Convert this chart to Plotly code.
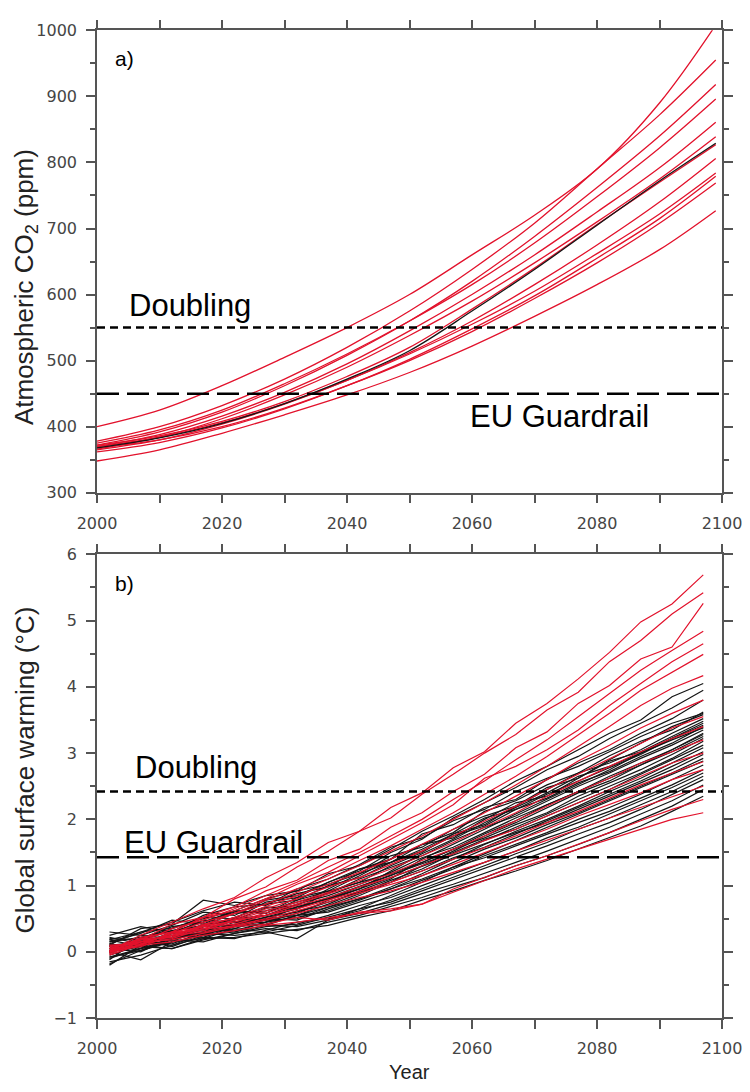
import plotly.graph_objects as go

# ---------------- data ----------------
# panel a) atmospheric CO2 (ppm) for the emission-driven runs
co2_years = [2000, 2010, 2020, 2030, 2040, 2050, 2060, 2070, 2080, 2090, 2099]
co2_runs_red = [
    [400, 425, 462, 505, 550, 600, 660, 720, 790, 890, 1008],
    [378, 400, 432, 472, 520, 575, 638, 708, 790, 872, 955],
    [372, 392, 422, 462, 508, 560, 620, 688, 762, 840, 918],
    [375, 395, 425, 465, 510, 560, 615, 678, 748, 822, 896],
    [370, 388, 416, 452, 495, 545, 600, 660, 725, 792, 861],
    [366, 384, 412, 448, 490, 538, 590, 648, 710, 775, 839],
    [372, 386, 408, 438, 476, 520, 578, 640, 706, 770, 827],
    [365, 380, 404, 434, 470, 512, 560, 615, 675, 740, 806],
    [370, 384, 406, 435, 470, 510, 555, 605, 662, 722, 784],
    [362, 376, 398, 427, 462, 502, 548, 598, 655, 715, 779],
    [368, 380, 400, 428, 462, 500, 544, 594, 648, 708, 769],
    [348, 365, 390, 418, 448, 482, 522, 567, 615, 668, 727],
]
co2_run_black = [368, 383, 405, 435, 472, 515, 575, 638, 705, 772, 829]

# panel b) global surface warming (deg C)
warming_years = [2002, 2007, 2012, 2017, 2022, 2027, 2032, 2037, 2042, 2047,
                 2052, 2057, 2062, 2067, 2072, 2077, 2082, 2087, 2092, 2097]
warming_runs_red = [
    [0.02, 0.25, 0.45, 0.65, 0.82, 1.12, 1.35, 1.65, 1.82, 2.18, 2.40, 2.78, 3.02, 3.45, 3.75, 4.12, 4.52, 4.98, 5.25, 5.69],
    [0.05, 0.18, 0.42, 0.52, 0.80, 0.98, 1.28, 1.52, 1.82, 2.02, 2.38, 2.68, 3.00, 3.28, 3.65, 3.92, 4.38, 4.70, 5.10, 5.42],
    [0.00, 0.20, 0.30, 0.52, 0.68, 0.92, 1.08, 1.38, 1.55, 1.88, 2.10, 2.42, 2.68, 3.08, 3.32, 3.75, 4.02, 4.42, 4.60, 5.26],
    [0.08, 0.15, 0.35, 0.48, 0.65, 0.85, 1.05, 1.28, 1.50, 1.75, 2.00, 2.30, 2.58, 2.90, 3.20, 3.55, 3.90, 4.25, 4.55, 4.84],
    [-0.02, 0.22, 0.30, 0.52, 0.62, 0.80, 1.02, 1.20, 1.45, 1.70, 1.95, 2.22, 2.62, 2.80, 3.05, 3.35, 3.72, 4.05, 4.38, 4.65],
    [0.10, 0.12, 0.28, 0.45, 0.58, 0.78, 0.95, 1.15, 1.38, 1.60, 1.85, 2.10, 2.38, 2.65, 2.95, 3.28, 3.60, 3.95, 4.22, 4.49],
    [0.00, 0.15, 0.25, 0.40, 0.58, 0.72, 0.90, 1.10, 1.30, 1.52, 1.75, 2.00, 2.25, 2.52, 2.80, 3.10, 3.40, 3.72, 3.98, 4.17],
    [0.05, 0.10, 0.30, 0.38, 0.52, 0.68, 0.85, 1.02, 1.20, 1.40, 1.62, 1.85, 2.10, 2.35, 2.60, 2.88, 3.12, 3.38, 3.60, 3.80],
    [0.02, 0.18, 0.22, 0.42, 0.50, 0.65, 0.80, 0.98, 1.12, 1.32, 1.52, 1.75, 1.98, 2.20, 2.45, 2.68, 2.92, 3.15, 3.38, 3.55],
    [-0.05, 0.12, 0.28, 0.35, 0.48, 0.62, 0.75, 0.90, 1.08, 1.25, 1.45, 1.65, 1.88, 2.10, 2.35, 2.58, 2.80, 3.02, 3.22, 3.40],
    [0.08, 0.15, 0.25, 0.40, 0.45, 0.58, 0.72, 0.88, 1.02, 1.18, 1.38, 1.55, 1.75, 1.98, 2.20, 2.42, 2.62, 2.85, 3.02, 3.20],
    [0.00, 0.10, 0.30, 0.32, 0.48, 0.55, 0.70, 0.82, 0.98, 1.12, 1.30, 1.48, 1.68, 1.85, 2.05, 2.25, 2.45, 2.65, 2.85, 3.00],
    [0.05, 0.20, 0.22, 0.38, 0.42, 0.55, 0.65, 0.78, 0.92, 1.05, 1.22, 1.40, 1.58, 1.75, 1.95, 2.12, 2.32, 2.52, 2.70, 2.87],
    [0.02, 0.08, 0.25, 0.30, 0.40, 0.50, 0.62, 0.75, 0.88, 1.02, 1.15, 1.32, 1.50, 1.68, 1.85, 2.05, 2.22, 2.40, 2.60, 2.75],
    [0.10, 0.12, 0.20, 0.35, 0.38, 0.48, 0.58, 0.70, 0.82, 0.92, 1.05, 1.20, 1.35, 1.52, 1.68, 1.85, 2.02, 2.18, 2.35, 2.50],
    [-0.03, 0.15, 0.18, 0.28, 0.38, 0.42, 0.52, 0.48, 0.60, 0.65, 0.72, 0.95, 1.12, 1.30, 1.45, 1.62, 1.80, 1.98, 2.15, 2.30],
    [0.00, 0.10, 0.15, 0.25, 0.32, 0.40, 0.45, 0.52, 0.58, 0.62, 0.72, 0.90, 1.08, 1.25, 1.40, 1.55, 1.70, 1.85, 2.00, 2.10],
]
warming_runs_black = [
    [0.10, 0.35, 0.42, 0.78, 0.70, 0.85, 0.92, 1.18, 1.30, 1.55, 1.82, 2.05, 2.30, 2.58, 2.80, 3.05, 3.30, 3.50, 3.85, 4.05],
    [-0.10, 0.05, 0.30, 0.45, 0.62, 0.58, 0.82, 1.05, 1.22, 1.50, 1.70, 2.02, 2.25, 2.48, 2.75, 2.95, 3.22, 3.45, 3.68, 3.95],
    [0.25, 0.38, 0.30, 0.55, 0.68, 0.72, 0.88, 0.98, 1.25, 1.40, 1.78, 1.92, 2.18, 2.30, 2.60, 2.85, 3.05, 3.30, 3.52, 3.80],
    [-0.18, 0.02, 0.22, 0.30, 0.48, 0.66, 0.70, 0.95, 1.18, 1.35, 1.62, 1.80, 2.12, 2.28, 2.52, 2.70, 2.96, 3.18, 3.35, 3.62],
    [0.15, 0.28, 0.48, 0.42, 0.62, 0.80, 0.92, 1.02, 1.18, 1.45, 1.58, 1.85, 2.05, 2.20, 2.48, 2.62, 2.90, 3.15, 3.40, 3.58],
    [0.00, -0.12, 0.15, 0.38, 0.40, 0.52, 0.65, 0.90, 1.05, 1.30, 1.50, 1.78, 1.92, 2.20, 2.45, 2.70, 2.85, 3.05, 3.30, 3.52],
    [0.05, 0.20, 0.35, 0.52, 0.50, 0.75, 0.82, 0.92, 1.15, 1.40, 1.62, 1.72, 2.00, 2.25, 2.35, 2.62, 2.88, 3.02, 3.25, 3.48],
    [-0.05, 0.10, 0.18, 0.30, 0.42, 0.45, 0.58, 0.78, 0.95, 1.22, 1.48, 1.70, 1.95, 2.18, 2.40, 2.65, 2.80, 3.00, 3.22, 3.45],
    [0.30, 0.25, 0.40, 0.60, 0.55, 0.78, 0.85, 1.05, 1.25, 1.35, 1.52, 1.75, 1.90, 2.15, 2.32, 2.55, 2.72, 2.95, 3.15, 3.40],
    [0.08, 0.15, 0.10, 0.28, 0.35, 0.50, 0.55, 0.72, 0.92, 1.10, 1.40, 1.62, 1.85, 2.08, 2.30, 2.52, 2.75, 3.00, 3.20, 3.38],
    [-0.12, 0.22, 0.32, 0.40, 0.58, 0.62, 0.75, 0.88, 1.10, 1.28, 1.45, 1.68, 1.88, 2.05, 2.28, 2.50, 2.70, 2.92, 3.12, 3.35],
    [0.18, 0.08, 0.28, 0.48, 0.45, 0.55, 0.72, 0.85, 1.02, 1.20, 1.42, 1.58, 1.80, 2.02, 2.22, 2.42, 2.65, 2.85, 3.05, 3.30],
    [0.02, 0.12, 0.25, 0.22, 0.38, 0.48, 0.50, 0.68, 0.85, 1.05, 1.30, 1.52, 1.75, 1.95, 2.18, 2.40, 2.58, 2.82, 3.02, 3.25],
    [0.12, 0.30, 0.36, 0.50, 0.62, 0.58, 0.78, 0.92, 1.05, 1.18, 1.35, 1.55, 1.72, 1.92, 2.10, 2.35, 2.55, 2.75, 2.98, 3.22],
    [-0.08, 0.05, 0.20, 0.35, 0.32, 0.45, 0.62, 0.70, 0.88, 1.08, 1.25, 1.48, 1.68, 1.88, 2.08, 2.30, 2.50, 2.70, 2.92, 3.18],
    [0.20, 0.18, 0.32, 0.38, 0.52, 0.68, 0.65, 0.82, 0.98, 1.15, 1.32, 1.50, 1.70, 1.85, 2.05, 2.25, 2.45, 2.68, 2.90, 3.12],
    [0.00, 0.25, 0.20, 0.42, 0.45, 0.40, 0.55, 0.68, 0.80, 0.98, 1.18, 1.40, 1.62, 1.82, 2.00, 2.20, 2.42, 2.62, 2.85, 3.08],
    [0.10, 0.02, 0.15, 0.25, 0.40, 0.52, 0.60, 0.75, 0.90, 1.05, 1.22, 1.42, 1.58, 1.78, 1.98, 2.18, 2.38, 2.58, 2.80, 3.02],
    [-0.20, 0.10, 0.28, 0.32, 0.50, 0.48, 0.68, 0.80, 0.95, 1.12, 1.28, 1.45, 1.62, 1.80, 1.95, 2.15, 2.35, 2.55, 2.75, 2.98],
    [0.15, 0.22, 0.18, 0.35, 0.30, 0.45, 0.52, 0.62, 0.78, 0.95, 1.15, 1.35, 1.55, 1.72, 1.92, 2.10, 2.30, 2.50, 2.70, 2.92],
    [0.05, 0.00, 0.22, 0.28, 0.25, 0.30, 0.20, 0.48, 0.65, 0.85, 1.05, 1.28, 1.48, 1.68, 1.88, 2.08, 2.28, 2.48, 2.68, 2.88],
    [-0.02, 0.15, 0.12, 0.30, 0.38, 0.42, 0.55, 0.60, 0.75, 0.90, 1.08, 1.25, 1.45, 1.62, 1.80, 2.00, 2.18, 2.38, 2.60, 2.82],
    [0.22, 0.12, 0.30, 0.26, 0.45, 0.50, 0.48, 0.65, 0.80, 0.95, 1.10, 1.28, 1.42, 1.60, 1.78, 1.95, 2.12, 2.32, 2.52, 2.75],
    [0.00, 0.08, 0.05, 0.18, 0.28, 0.38, 0.42, 0.55, 0.70, 0.82, 1.00, 1.18, 1.35, 1.52, 1.72, 1.88, 2.08, 2.28, 2.48, 2.70],
    [-0.15, -0.05, 0.10, 0.22, 0.20, 0.32, 0.45, 0.50, 0.62, 0.78, 0.95, 1.12, 1.30, 1.48, 1.65, 1.85, 2.02, 2.22, 2.42, 2.65],
    [0.12, 0.05, 0.15, 0.20, 0.35, 0.30, 0.40, 0.52, 0.65, 0.75, 0.92, 1.08, 1.25, 1.42, 1.60, 1.78, 1.95, 2.15, 2.38, 2.60],
    [0.05, 0.18, 0.08, 0.25, 0.30, 0.40, 0.38, 0.48, 0.58, 0.72, 0.88, 1.02, 1.18, 1.35, 1.52, 1.70, 1.88, 2.08, 2.28, 2.52],
    [-0.08, 0.02, 0.18, 0.15, 0.28, 0.35, 0.32, 0.45, 0.55, 0.68, 0.82, 0.98, 1.12, 1.30, 1.45, 1.62, 1.80, 2.00, 2.20, 2.45],
    [0.08, 0.10, 0.05, 0.20, 0.22, 0.28, 0.35, 0.40, 0.52, 0.62, 0.78, 0.92, 1.08, 1.22, 1.38, 1.55, 1.72, 1.90, 2.12, 2.35],
    [0.18, 0.30, 0.45, 0.62, 0.75, 0.70, 0.95, 1.10, 1.32, 1.58, 1.72, 1.98, 2.15, 2.42, 2.62, 2.80, 3.02, 3.25, 3.45, 3.60],
    [0.02, 0.20, 0.38, 0.45, 0.60, 0.72, 0.78, 1.00, 1.12, 1.35, 1.55, 1.78, 2.02, 2.15, 2.38, 2.58, 2.78, 2.98, 3.22, 3.42],
    [0.10, 0.15, 0.22, 0.38, 0.50, 0.55, 0.68, 0.80, 0.98, 1.15, 1.35, 1.55, 1.78, 1.98, 2.22, 2.42, 2.62, 2.82, 3.05, 3.28],
]

# threshold levels
doubling_co2 = 550
guardrail_co2 = 450
doubling_warming = 2.42
guardrail_warming = 1.43

x_ticks = [2000, 2020, 2040, 2060, 2080, 2100]

RED = "#e2122c"
BLACK = "#151515"
AXIS = "#555555"
TICKTXT = "#454545"

fig = go.Figure()

# panel a)
for run in co2_runs_red:
    fig.add_trace(go.Scatter(x=co2_years, y=run, mode="lines", line=dict(color=RED, width=1.3, shape="spline"),
                             xaxis="x", yaxis="y", showlegend=False, hoverinfo="skip"))
fig.add_trace(go.Scatter(x=co2_years, y=co2_run_black, mode="lines", line=dict(color=BLACK, width=1.3, shape="spline"),
                         xaxis="x", yaxis="y", showlegend=False, hoverinfo="skip"))

# panel b)
for run in warming_runs_black:
    fig.add_trace(go.Scatter(x=warming_years, y=run, mode="lines", line=dict(color=BLACK, width=1.2),
                             xaxis="x2", yaxis="y2", showlegend=False, hoverinfo="skip"))
for run in warming_runs_red:
    fig.add_trace(go.Scatter(x=warming_years, y=run, mode="lines", line=dict(color=RED, width=1.2),
                             xaxis="x2", yaxis="y2", showlegend=False, hoverinfo="skip"))

tickfont = dict(family="DejaVu Sans", size=16, color=TICKTXT)

def x_axis(anchor):
    return dict(range=[2000, 2100], tickvals=x_ticks, anchor=anchor, domain=[0, 1],
                showline=True, linecolor=AXIS, linewidth=1.5, mirror="ticks",
                ticks="outside", ticklen=9, tickwidth=1.5, tickcolor=AXIS,
                minor=dict(dtick=10, tick0=2000, ticks="outside", ticklen=9, tickwidth=1.5, tickcolor=AXIS),
                showgrid=False, zeroline=False, tickfont=tickfont, ticklabelstandoff=6)

def y_axis(anchor, rng, dtick, minor_dtick, domain):
    return dict(range=rng, dtick=dtick, tick0=0, anchor=anchor, domain=domain,
                showline=True, linecolor=AXIS, linewidth=1.5, mirror="ticks",
                ticks="outside", ticklen=9, tickwidth=1.5, tickcolor=AXIS,
                minor=dict(dtick=minor_dtick, ticks="outside", ticklen=5, tickwidth=1.5, tickcolor=AXIS),
                showgrid=False, zeroline=False, tickfont=tickfont, ticklabelstandoff=6)

W, H = 750, 1092
top_dom = [1 - 492.3 / H, 1 - 21.7 / H]
bot_dom = [1 - 1027.0 / H, 1 - 555.0 / H]

def paper_y(page_y):
    return 1 - page_y / H

shapes = [
    dict(type="line", xref="x", yref="y", x0=2000, x1=2100, y0=doubling_co2, y1=doubling_co2,
         line=dict(color="black", width=2.5, dash="8px,5px")),
    dict(type="line", xref="x", yref="y", x0=2000, x1=2100, y0=guardrail_co2, y1=guardrail_co2,
         line=dict(color="black", width=2.5, dash="22px,8px")),
    dict(type="line", xref="x2", yref="y2", x0=2000, x1=2100, y0=doubling_warming, y1=doubling_warming,
         line=dict(color="black", width=2.5, dash="8px,5px")),
    dict(type="line", xref="x2", yref="y2", x0=2000, x1=2100, y0=guardrail_warming, y1=guardrail_warming,
         line=dict(color="black", width=2.5, dash="22px,8px")),
]

label_font = dict(family="Liberation Sans, Arial", size=31, color="black")
title_font = dict(family="Liberation Sans, Arial", size=26, color="#222222")
panel_font = dict(family="Liberation Sans, Arial", size=21, color="black")

annotations = [
    dict(text="Doubling", x=2004.8, y=583, xref="x", yref="y", xanchor="left", yanchor="middle",
         showarrow=False, font=label_font),
    dict(text="EU Guardrail", x=2059.4, y=415, xref="x", yref="y", xanchor="left", yanchor="middle",
         showarrow=False, font=label_font),
    dict(text="Doubling", x=2005.8, y=2.78, xref="x2", yref="y2", xanchor="left", yanchor="middle",
         showarrow=False, font=label_font),
    dict(text="EU Guardrail", x=2004.0, y=1.65, xref="x2", yref="y2", xanchor="left", yanchor="middle",
         showarrow=False, font=label_font),
    dict(text="a)", x=2002.6, y=958, xref="x", yref="y", xanchor="left", yanchor="middle",
         showarrow=False, font=panel_font),
    dict(text="b)", x=2002.6, y=5.56, xref="x2", yref="y2", xanchor="left", yanchor="middle",
         showarrow=False, font=panel_font),
    dict(text="Atmospheric CO<sub>2</sub> (ppm)", x=(25 - 97) / 625.0, y=paper_y(283), xref="paper", yref="paper",
         xanchor="center", yanchor="middle", textangle=-90, showarrow=False, font=title_font),
    dict(text="Global surface warming (°C)", x=(25 - 97) / 625.0, y=paper_y(775), xref="paper", yref="paper",
         xanchor="center", yanchor="middle", textangle=-90, showarrow=False, font=title_font),
    dict(text="Year", x=0.5, y=paper_y(1082), xref="paper", yref="paper",
         xanchor="center", yanchor="middle", showarrow=False,
         font=dict(family="Liberation Sans, Arial", size=20, color="#222222")),
]

fig.update_layout(
    width=W, height=H,
    margin=dict(l=97, r=28, t=0, b=0),
    paper_bgcolor="white", plot_bgcolor="white",
    showlegend=False,
    xaxis=x_axis("y"),
    yaxis=y_axis("x", [300, 1000], 100, 50, top_dom),
    xaxis2=x_axis("y2"),
    yaxis2=y_axis("x2", [-1, 6], 1, 0.5, bot_dom),
    shapes=shapes,
    annotations=annotations,
)

fig.write_html("out.html")
